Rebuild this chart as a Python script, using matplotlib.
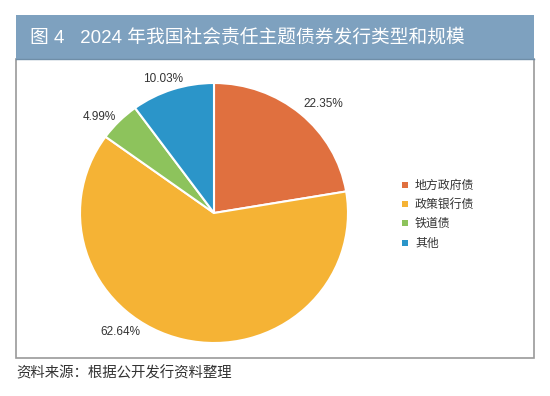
import numpy as np
import matplotlib
matplotlib.use('Agg')
import matplotlib.pyplot as plt
import matplotlib.patches as patches

# ── Data ──────────────────────────────────────────────────────────────────────
categories = ['地方政府债', '政策银行债', '铁道债', '其他']
shares = [22.35, 62.64, 4.99, 10.03]
pct_labels = ['22.35%', '62.64%', '4.99%', '10.03%']

colors = ['#e0703f', '#f5b335', '#8dc35c', '#2b95c9']
# angular nudges (deg) and radial distance for the percentage labels
label_shift = [-4, -24, 4, 2]
label_dist = [1.17, 1.15, 1.13, 1.10]

FONT = ['Liberation Sans', 'Noto Sans CJK SC', 'DejaVu Sans']
CJK = ['Noto Sans CJK SC', 'DejaVu Sans']

W, H = 550, 396
fig = plt.figure(figsize=(W / 100, H / 100), dpi=100)
fig.patch.set_facecolor('white')


def fx(px):
    return px / W


def fy(py):
    return 1 - py / H


# ── Frame & header ────────────────────────────────────────────────────────────
bg = fig.add_axes([0, 0, 1, 1])
bg.set_xlim(0, W)
bg.set_ylim(H, 0)
bg.axis('off')
bg.add_patch(patches.Rectangle((16, 59), 518, 299, facecolor='white',
                               edgecolor='#9a9a9a', linewidth=1.2, zorder=1))
bg.add_patch(patches.Rectangle((16, 15), 518, 44, facecolor='#7ea1bf',
                               edgecolor='none', zorder=2))
bg.plot([16, 534], [59, 59], color='#6f8ea8', linewidth=1.0, zorder=3)
bg.text(30, 37, '图 4   2024 年我国社会责任主题债券发行类型和规模',
        color='white', fontsize=13.5, va='center', ha='left',
        family=FONT, zorder=4)
bg.text(16, 373, '资料来源：根据公开发行资料整理', color='#333333',
        fontsize=10.4, va='center', ha='left', family=CJK)

# ── Pie ───────────────────────────────────────────────────────────────────────
ax = fig.add_axes([fx(80), fy(343), fx(268), 260 / H])
wedges, _ = ax.pie(shares, colors=colors, startangle=90, counterclock=False,
                   wedgeprops=dict(edgecolor='white', linewidth=1.5))
ax.set_aspect('auto')
ax.set_xlim(-1, 1)
ax.set_ylim(-1, 1)
ax.axis('off')

for w, lab, sh, d in zip(wedges, pct_labels, label_shift, label_dist):
    ang = np.deg2rad((w.theta1 + w.theta2) / 2 + sh)
    ax.text(d * np.cos(ang), d * np.sin(ang), lab, fontsize=8.5,
            color='#333333', ha='center', va='center', family=FONT,
            clip_on=False)

# ── Legend ────────────────────────────────────────────────────────────────────
leg_y = [185, 204, 223, 243]
for cat, col, y in zip(categories, colors, leg_y):
    bg.add_patch(patches.Rectangle((402, y - 3), 6, 6, facecolor=col,
                                   edgecolor='none', zorder=3))
    bg.text(415, y, cat, fontsize=8.6, color='#333333', va='center',
            ha='left', family=CJK, zorder=3)

plt.savefig('out.png', dpi=100, facecolor=fig.get_facecolor())
